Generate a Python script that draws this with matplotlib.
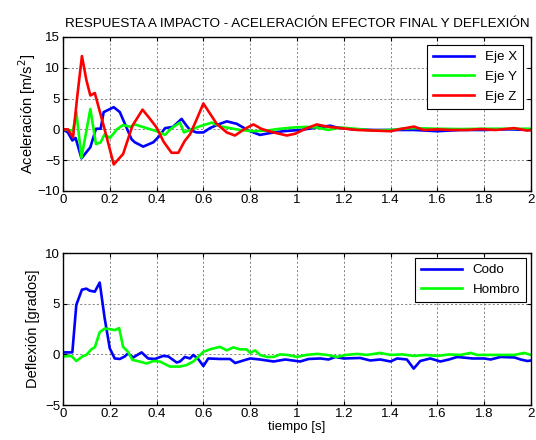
import numpy as np
import matplotlib
matplotlib.use("Agg")
import matplotlib.pyplot as plt

plt.rcParams['font.family'] = ['Liberation Sans', 'DejaVu Sans']
plt.rcParams['font.size'] = 9

# aceleracion efector final
t_x = [0, 0.021, 0.04, 0.054, 0.079, 0.117, 0.141, 0.161, 0.174, 0.217, 0.243, 0.293, 0.307, 0.343,
       0.386, 0.414, 0.436, 0.47, 0.507, 0.528, 0.543, 0.571, 0.6, 0.628, 0.664, 0.7, 0.743, 0.793,
       0.842, 0.885, 0.942, 1.014, 1.07, 1.142, 1.17, 1.24, 1.33, 1.4, 1.5, 1.6, 1.65, 1.7, 1.8, 1.9, 2.0]
acc_x = [0, -0.5, -1.8, -1.4, -4.7, -2.9, 0.1, 0.1, 2.8, 3.6, 2.8, -1.6, -2.1, -2.8,
         -2.1, -1.0, 0.2, 0.4, 1.7, 0.6, -0.1, -0.5, -0.5, 0.2, 0.8, 1.3, 0.9, -0.2,
         -0.9, -0.6, -0.3, -0.1, 0.2, 0.6, 0.3, 0, -0.1, -0.1, -0.1, -0.3, -0.2, -0.1, -0.1, 0, -0.1]

t_y = [0, 0.043, 0.057, 0.079, 0.117, 0.141, 0.161, 0.178, 0.2, 0.214, 0.23, 0.257, 0.29, 0.307,
       0.357, 0.4, 0.436, 0.464, 0.5, 0.517, 0.543, 0.585, 0.636, 0.671, 0.714, 0.757, 0.814,
       0.87, 0.928, 0.985, 1.04, 1.085, 1.135, 1.185, 1.25, 1.33, 1.4, 1.45, 1.5, 1.6, 1.7, 1.8, 1.9, 2.0]
acc_y = [0, -0.2, 2.8, -4.6, 3.3, -2.4, -2.1, -0.8, -1.4, -0.8, 0, 0.7, 0.4, 0.8,
         0.2, -0.3, -0.9, 0.2, 1.1, -0.5, -0.1, 0.5, 1.1, 0.5, 0.2, -0.1, -0.3,
         -0.2, 0.1, 0.3, 0.4, 0.3, -0.1, 0.3, 0.1, -0.2, -0.1, 0.1, 0.2, 0.1, 0.05, 0.1, 0.1, 0.1]

t_z = [0, 0.021, 0.043, 0.06, 0.081, 0.1, 0.117, 0.136, 0.178, 0.217, 0.257, 0.297, 0.34, 0.37,
       0.4, 0.43, 0.464, 0.493, 0.52, 0.543, 0.57, 0.6, 0.657, 0.7, 0.735, 0.778, 0.814, 0.85,
       0.9, 0.957, 0.993, 1.04, 1.085, 1.128, 1.185, 1.257, 1.328, 1.4, 1.442, 1.5, 1.542, 1.6,
       1.66, 1.727, 1.785, 1.85, 1.928, 1.985, 2.0]
acc_z = [0, 0, -1.3, 5.0, 11.9, 8.0, 5.5, 5.9, 0, -5.7, -4.0, 0.6, 3.2, 1.8,
         0.3, -2.0, -3.8, -3.8, -1.9, -0.8, 1.5, 4.2, 0.9, -0.5, -1.0, 0.1, 0.8, 0.05,
         -0.5, -1.0, -0.7, 0.15, 0.8, 0.45, 0.2, -0.1, -0.2, -0.3, 0.05, 0.45, -0.1, 0,
         -0.1, -0.1, 0.05, -0.1, 0.2, -0.2, -0.1]

# deflexion
t_codo = [0, 0.04, 0.057, 0.081, 0.1, 0.114, 0.136, 0.157, 0.178, 0.2, 0.221, 0.243, 0.264, 0.278,
          0.3, 0.336, 0.364, 0.393, 0.428, 0.45, 0.486, 0.5, 0.521, 0.543, 0.557, 0.578, 0.6, 0.621,
          0.671, 0.714, 0.736, 0.764, 0.8, 0.842, 0.871, 0.9, 0.95, 1.014, 1.05, 1.1, 1.135, 1.164,
          1.2, 1.27, 1.314, 1.356, 1.4, 1.428, 1.47, 1.499, 1.527, 1.57, 1.613, 1.65, 1.685, 1.75,
          1.8, 1.828, 1.87, 1.93, 1.956, 1.985, 2.0]
def_codo = [0.2, 0.2, 4.9, 6.4, 6.5, 6.3, 6.2, 7.1, 3.6, 0.6, -0.4, -0.45, -0.2, 0.1,
            -0.3, 0.2, -0.4, -0.45, -0.15, -0.2, -0.8, -0.7, -0.25, -0.4, -0.05, -0.45, -1.15, -0.4,
            -0.45, -0.45, -0.85, -0.65, -0.4, -0.5, -0.6, -0.7, -0.5, -0.7, -0.45, -0.4, -0.5, -0.25,
            -0.4, -0.35, -0.6, -0.5, -0.7, -0.4, -0.5, -1.4, -0.65, -0.4, -0.7, -0.5, -0.25, -0.4,
            -0.4, -0.5, -0.25, -0.3, -0.5, -0.65, -0.6]

t_hombro = [0, 0.036, 0.057, 0.086, 0.1, 0.121, 0.136, 0.157, 0.178, 0.2, 0.221, 0.24, 0.257, 0.278,
            0.297, 0.328, 0.357, 0.386, 0.414, 0.457, 0.5, 0.528, 0.557, 0.6, 0.628, 0.671, 0.7,
            0.728, 0.757, 0.785, 0.8, 0.821, 0.842, 0.871, 0.9, 0.928, 0.96, 1.0, 1.04, 1.085, 1.13,
            1.17, 1.21, 1.257, 1.3, 1.328, 1.356, 1.4, 1.45, 1.499, 1.55, 1.6, 1.65, 1.7, 1.742,
            1.77, 1.83, 1.88, 1.93, 1.971, 2.0]
def_hombro = [-0.2, -0.15, -0.65, -0.15, -0.05, 0.5, 0.7, 2.2, 2.55, 2.5, 2.4, 2.6, 0.75, 0.25,
              -0.55, -0.7, -0.9, -0.65, -0.7, -1.2, -1.2, -1.05, -0.7, 0.25, 0.5, 0.75, 0.4,
              0.7, 0.5, 0.5, 0.15, 0.4, -0.05, -0.25, -0.25, 0, -0.05, -0.25, -0.05, 0.05, -0.05,
              -0.25, -0.05, 0.05, -0.05, 0.05, 0.15, -0.05, 0, -0.15, -0.05, -0.15, 0, -0.05, 0.15,
              -0.05, -0.05, -0.05, -0.05, 0.15, -0.05]

x_ticks = np.arange(0, 2.01, 0.2)
x_ticklabels = ['0', '0.2', '0.4', '0.6', '0.8', '1', '1.2', '1.4', '1.6', '1.8', '2']

fig = plt.figure(figsize=(5.36, 4.4), dpi=100)
ax1 = fig.add_axes([0.1175, 0.566, 0.873, 0.350])
ax2 = fig.add_axes([0.1175, 0.0795, 0.873, 0.345])

ax1.plot(t_x, acc_x, color='#0000ff', lw=1.9, label='Eje X')
ax1.plot(t_y, acc_y, color='#00ff00', lw=1.9, label='Eje Y')
ax1.plot(t_z, acc_z, color='#ff0000', lw=1.9, label='Eje Z')
ax1.set_ylim(-10, 15)
ax1.set_yticks([-10, -5, 0, 5, 10, 15])
ax1.set_ylabel('Aceleración [m/s$^2$]', labelpad=0, fontsize=10.5)
ax1.set_title('RESPUESTA A IMPACTO - ACELERACIÓN EFECTOR FINAL Y DEFLEXIÓN', fontsize=9.7, pad=7)

ax2.plot(t_codo, def_codo, color='#0000ff', lw=1.9, label='Codo')
ax2.plot(t_hombro, def_hombro, color='#00ff00', lw=1.9, label='Hombro')
ax2.set_ylim(-5, 10)
ax2.set_yticks([-5, 0, 5, 10])
ax2.set_ylabel('Deflexión [grados]', labelpad=4, fontsize=10.5)
ax2.set_xlabel('tiempo [s]', labelpad=1, fontsize=9.5)

leg_pad = {ax1: 0.6, ax2: 0.35}
for ax in (ax1, ax2):
    ax.set_xlim(0, 2)
    ax.set_xticks(x_ticks)
    ax.set_xticklabels(x_ticklabels)
    ax.grid(True, color='#555555', linestyle=(0, (3, 3)), linewidth=0.5)
    ax.tick_params(direction='in', top=True, right=True, length=3, pad=2, labelsize=9.5)
    for sp in ax.spines.values():
        sp.set_linewidth(1.0)
    leg = ax.legend(loc='upper right', fancybox=False, framealpha=1, edgecolor='black',
                    borderaxespad=leg_pad[ax], handlelength=3.1, fontsize=9.6, borderpad=0.45,
                    labelspacing=0.55)
    leg.get_frame().set_linewidth(0.8)

fig.savefig('out.png', dpi=100)
